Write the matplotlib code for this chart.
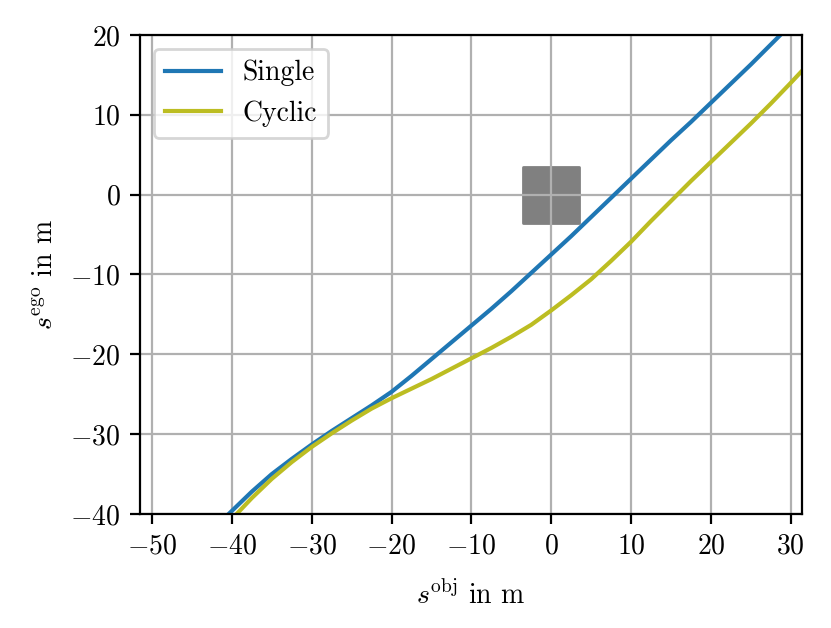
import matplotlib
matplotlib.use("Agg")
import matplotlib.pyplot as plt
from matplotlib.patches import Rectangle

plt.rcParams["font.family"] = "serif"
plt.rcParams["font.serif"] = ["cmr10"]
plt.rcParams["mathtext.fontset"] = "cm"
plt.rcParams["axes.formatter.use_mathtext"] = True
plt.rcParams["font.size"] = 10

# s_obj / s_ego trajectories
single_x = [-40.4, -37.5, -35, -32.5, -30, -27.5, -25, -22.5, -20, -17.5, -15,
            -12.5, -10, -7.5, -5, -2.5, 0, 2.5, 5, 7.5, 10, 12.5, 15, 17.5,
            20, 22.5, 25, 27.5, 29]
single_y = [-40, -37.2, -35.0, -33.1, -31.3, -29.6, -28.0, -26.4, -24.7, -22.7,
            -20.6, -18.5, -16.4, -14.3, -12.1, -9.8, -7.5, -5.2, -2.8, -0.4,
            2.0, 4.4, 6.8, 9.1, 11.5, 13.9, 16.3, 18.8, 20.3]

cyclic_x = [-39.4, -37.5, -35, -32.5, -30, -27.5, -25, -22.5, -20, -17.5, -15,
            -12.5, -10, -7.5, -5, -2.5, 0, 2.5, 5, 7.5, 10, 12.5, 15, 17.5,
            20, 22.5, 25, 27.5, 30, 31.5]
cyclic_y = [-40, -38.0, -35.6, -33.5, -31.6, -29.9, -28.3, -26.8, -25.5, -24.3,
            -23.1, -21.8, -20.5, -19.2, -17.8, -16.3, -14.5, -12.6, -10.6, -8.3,
            -5.9, -3.3, -0.8, 1.7, 4.1, 6.5, 8.9, 11.4, 14.0, 15.6]

# occupied region of the object
obj_center = (0, 0)
obj_size = 7.0

fig = plt.figure(figsize=(8.31 / 2, 6.28 / 2), dpi=200)
ax = fig.add_axes([0.1685, 0.1815, 0.7965, 0.7628])

half = obj_size / 2
ax.add_patch(Rectangle((obj_center[0] - half, obj_center[1] - half), obj_size, obj_size,
                       facecolor="gray", edgecolor="gray", linewidth=1.0, joinstyle="round"))

ax.plot(single_x, single_y, color="tab:blue", label="Single")
ax.plot(cyclic_x, cyclic_y, color="tab:olive", label="Cyclic")

ax.set_xlim(-51.5, 31.4)
ax.set_ylim(-40, 20)
ax.set_xticks(range(-50, 31, 10))
ax.set_yticks(range(-40, 21, 10))
ax.grid(True)
ax.set_xlabel(r"$s^\mathrm{obj}$ in m", labelpad=7.5)
ax.set_ylabel(r"$s^\mathrm{ego}$ in m")
ax.legend(loc="upper left")

fig.savefig("out.png", dpi=200)
